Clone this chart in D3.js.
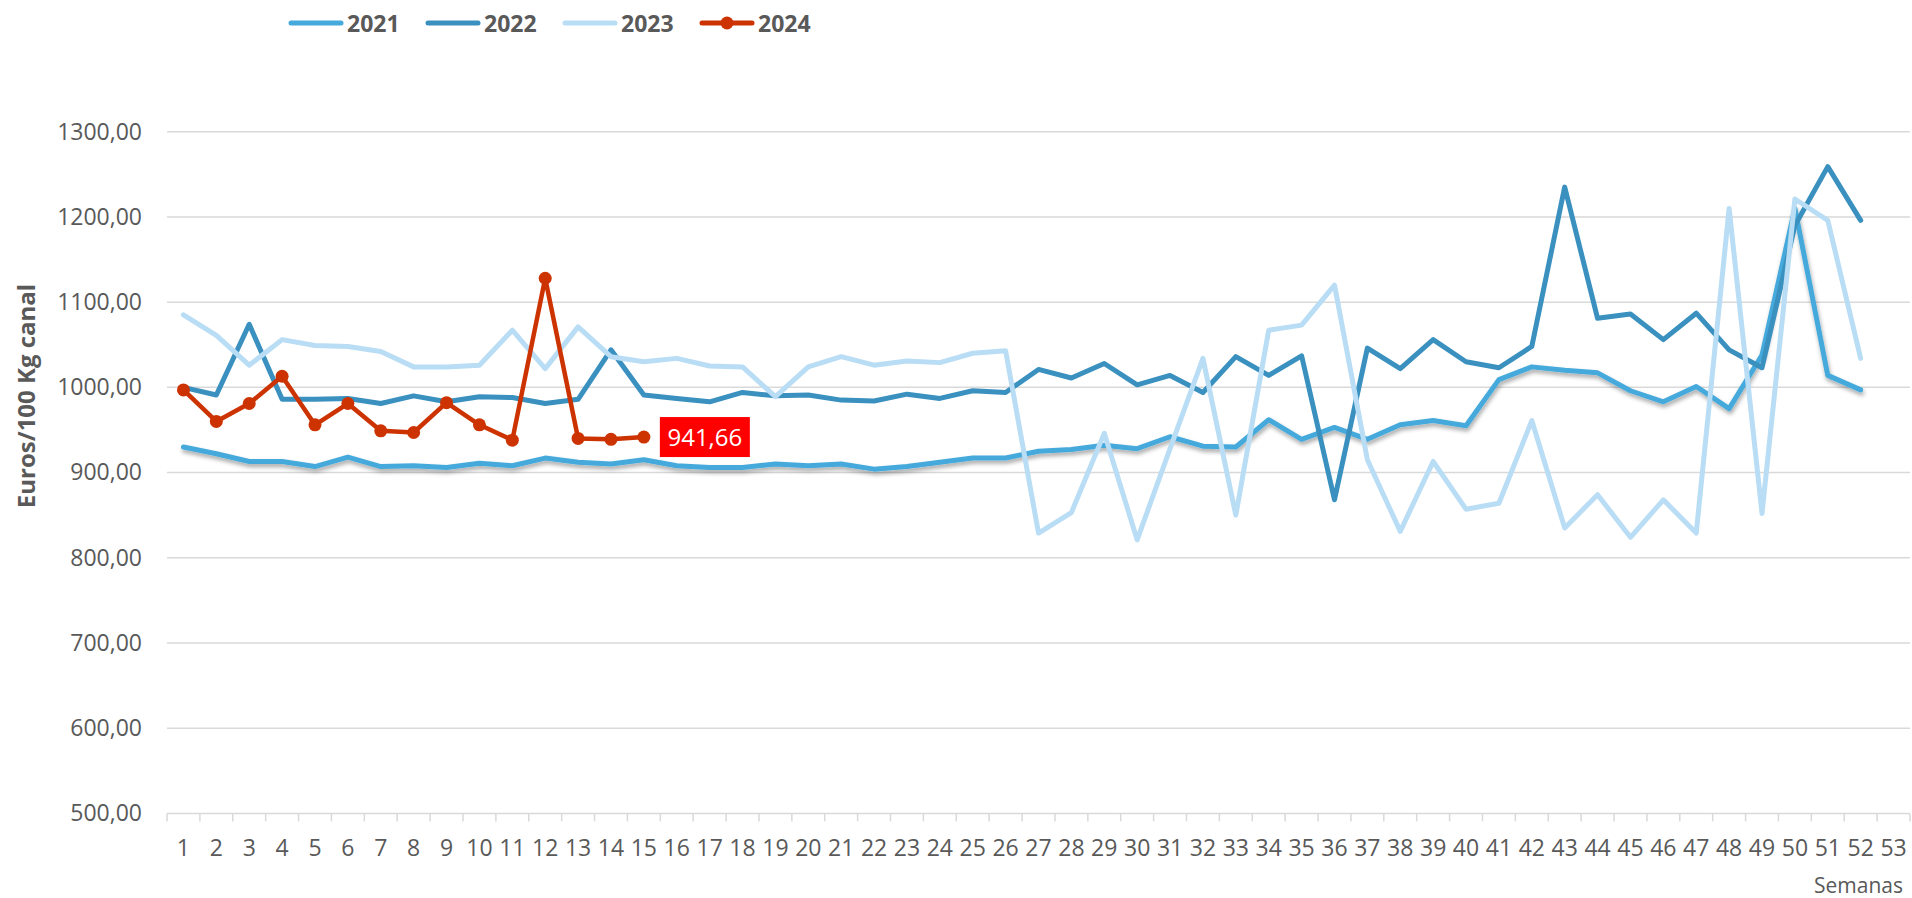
<!DOCTYPE html>
<html>
<head>
<meta charset="utf-8">
<script src="https://cdnjs.cloudflare.com/ajax/libs/d3/7.8.5/d3.min.js"></script>
<style>
  html, body { margin: 0; padding: 0; background: #fff; }
  #chart { width: 1912px; height: 898px; }
</style>
</head>
<body>
<div id="chart"></div>
<script>
// weeks on the category axis
const weeks = d3.range(1, 54);

// series values (euros / 100 kg canal)
const s2021 = [930, 922, 913, 913, 907, 918, 907, 908, 906, 911, 908, 917, 912, 910, 915,
  908, 906, 906, 910, 908, 910, 904, 907, 912, 917, 917, 925, 927, 932, 928,
  942, 931, 930, 962, 939, 953, 939, 956, 961, 955, 1009, 1024, 1020, 1017, 996,
  983, 1001, 975, 1038, 1210, 1014, 997];
const s2022 = [1000, 991, 1074, 986, 986, 987, 981, 990, 983, 989, 988, 981, 986, 1044, 991,
  987, 983, 994, 990, 991, 985, 984, 992, 987, 996, 994, 1021, 1011, 1028, 1003,
  1014, 994, 1036, 1014, 1037, 868, 1046, 1022, 1056, 1030, 1023, 1048, 1235, 1081, 1086,
  1056, 1087, 1044, 1023, 1190, 1259, 1196];
const s2023 = [1085, 1061, 1026, 1056, 1049, 1048, 1042, 1024, 1024, 1026, 1067, 1022, 1071, 1036, 1030,
  1034, 1025, 1024, 989, 1024, 1036, 1026, 1031, 1029, 1040, 1043, 829, 853, 946, 821,
  928, 1034, 850, 1067, 1073, 1120, 915, 831, 913, 857, 864, 961, 835, 874, 824,
  868, 829, 1210, 852, 1221, 1196, 1034];
const s2024 = [997, 960, 981, 1013, 956, 981, 949, 947, 982, 956, 938, 1128, 940, 939, 941.66];

const yTicks = [500, 600, 700, 800, 900, 1000, 1100, 1200, 1300];
const seriesNames = ["2021", "2022", "2023", "2024"];
const seriesData = [s2021, s2022, s2023, s2024];
const seriesColors = ["#45aadb", "#3a90bf", "#b9ddf5", "#cc3300"];

const W = 1912, H = 898;
const font = "'Open Sans', 'Noto Sans', sans-serif";
const textColor = "#595959";

const svg = d3.select("#chart").append("svg")
  .attr("width", W).attr("height", H)
  .style("font-family", font);

const defs = svg.append("defs");
defs.append("filter").attr("id", "shadow")
  .attr("x", "-5%").attr("y", "-20%").attr("width", "110%").attr("height", "140%")
  .append("feDropShadow")
  .attr("dx", 1).attr("dy", 3).attr("stdDeviation", 2)
  .attr("flood-color", "#000").attr("flood-opacity", 0.35);

const x = d3.scaleBand().domain(weeks).range([167, 1910]).padding(0);
const y = d3.scaleLinear().domain([500, 1300]).range([813.4, 131.7]);
const cx = w => x(w) + x.bandwidth() / 2;
const fmt = v => d3.format(".2f")(v).replace(".", ",");

// gridlines
svg.append("g")
  .selectAll("line")
  .data(yTicks)
  .join("line")
    .attr("x1", 167).attr("x2", 1910)
    .attr("y1", d => y(d)).attr("y2", d => y(d))
    .attr("stroke", "#d9d9d9").attr("stroke-width", 1.5);

// y axis labels
const yAxis = svg.append("g")
  .attr("transform", "translate(167,0)")
  .call(d3.axisLeft(y).tickValues(yTicks).tickSize(0).tickPadding(25).tickFormat(fmt));
yAxis.select(".domain").remove();
yAxis.selectAll("text")
  .attr("font-size", 23).attr("fill", textColor).style("font-family", font);

// x axis: tick marks sit on category boundaries
const xAxis = svg.append("g")
  .attr("transform", `translate(0,${y(500)})`)
  .call(d3.axisBottom(x).tickSize(0).tickPadding(26));
xAxis.select(".domain").remove();
xAxis.selectAll("text")
  .attr("font-size", 23).attr("fill", textColor).style("font-family", font);

svg.append("g")
  .selectAll("line")
  .data(weeks.concat([54]))
  .join("line")
    .attr("x1", d => d === 54 ? x.range()[1] : x(d))
    .attr("x2", d => d === 54 ? x.range()[1] : x(d))
    .attr("y1", y(500)).attr("y2", y(500) + 8)
    .attr("stroke", "#d9d9d9").attr("stroke-width", 1.5);

// axis titles
svg.append("text")
  .attr("transform", "translate(35,396) rotate(-90)")
  .attr("text-anchor", "middle")
  .attr("font-weight", "bold").attr("font-size", 24)
  .attr("fill", textColor)
  .text("Euros/100 Kg canal");

svg.append("text")
  .attr("x", 1903).attr("y", 893)
  .attr("text-anchor", "end")
  .attr("font-size", 21).attr("fill", textColor)
  .text("Semanas");

// lines
const line = d3.line().x((d, i) => cx(weeks[i])).y(d => y(d));

seriesData.forEach((vals, k) => {
  svg.append("path")
    .datum(vals)
    .attr("fill", "none")
    .attr("stroke", seriesColors[k])
    .attr("stroke-width", k === 3 ? 4.5 : 5)
    .attr("stroke-linejoin", "round")
    .attr("stroke-linecap", "round")
    .attr("filter", k === 0 ? "url(#shadow)" : null)
    .attr("d", line);
});

// 2024 markers
svg.append("g")
  .selectAll("circle")
  .data(s2024)
  .join("circle")
    .attr("cx", (d, i) => cx(weeks[i]))
    .attr("cy", d => y(d))
    .attr("r", 6.5)
    .attr("fill", seriesColors[3]);

// last value label
const last = s2024.length - 1;
const lbl = svg.append("g")
  .attr("transform", `translate(${cx(weeks[last]) + 16},${y(s2024[last])})`);
lbl.append("rect")
  .attr("x", 0).attr("y", -20).attr("width", 90).attr("height", 40)
  .attr("fill", "#ff0000");
lbl.append("text")
  .attr("x", 45).attr("y", 8.5)
  .attr("text-anchor", "middle")
  .attr("font-size", 24).attr("fill", "#fff")
  .text(fmt(s2024[last]));

// legend
const legend = svg.append("g").attr("transform", "translate(289,23)");
seriesNames.forEach((name, k) => {
  const g = legend.append("g").attr("transform", `translate(${k * 137},0)`);
  g.append("line")
    .attr("x1", 2).attr("x2", 52).attr("y1", 0).attr("y2", 0)
    .attr("stroke", seriesColors[k]).attr("stroke-width", 5)
    .attr("stroke-linecap", "round");
  if (k === 3) {
    g.append("circle").attr("cx", 27).attr("cy", 0).attr("r", 6.5).attr("fill", seriesColors[k]);
  }
  g.append("text")
    .attr("x", 58).attr("y", 8.5)
    .attr("font-size", 23).attr("font-weight", "bold")
    .attr("fill", textColor)
    .text(name);
});
</script>
</body>
</html>
